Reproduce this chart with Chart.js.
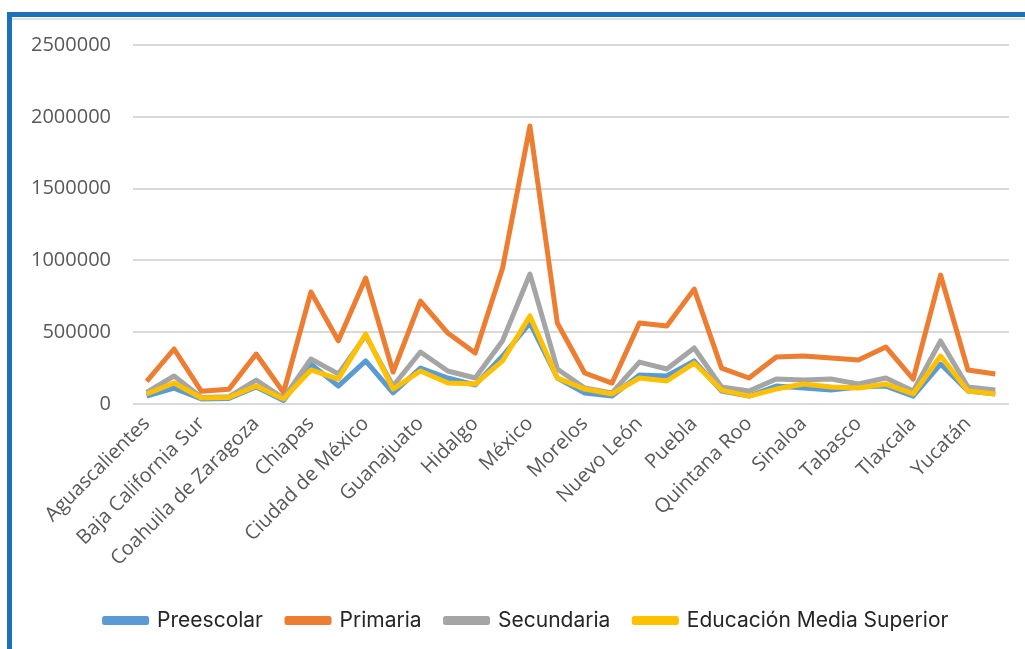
<!DOCTYPE html>
<html>
<head>
<meta charset="utf-8">
<script src="https://cdn.jsdelivr.net/npm/chart.js@4.4.0/dist/chart.umd.min.js"></script>
<style>
  html, body { margin: 0; padding: 0; background: #fff; }
  #wrap { position: relative; width: 1025px; height: 649px; overflow: hidden; }
  #frame { position: absolute; left: 7px; top: 12px; right: -10px; bottom: -10px;
           border-top: 5px solid #1b72bb; border-left: 5px solid #1b72bb; }
  #frame::after { content: ""; position: absolute; left: 0; right: 0; top: 1px; height: 2px; background: #dfe3e8; }
  canvas { position: absolute; left: 0; top: 0; }
</style>
</head>
<body>
<div id="wrap">
  <div id="frame"></div>
  <canvas id="c" width="1025" height="649"></canvas>
</div>
<script>
const states = ["Aguascalientes","Baja California","Baja California Sur","Campeche","Coahuila de Zaragoza","Colima","Chiapas","Chihuahua","Ciudad de México","Durango","Guanajuato","Guerrero","Hidalgo","Jalisco","México","Michoacán de Ocampo","Morelos","Nayarit","Nuevo León","Oaxaca","Puebla","Querétaro","Quintana Roo","San Luis Potosí","Sinaloa","Sonora","Tabasco","Tamaulipas","Tlaxcala","Veracruz de Ignacio de la Llave","Yucatán","Zacatecas"];

const preescolar = [55000,111000,35000,38000,118000,25000,278000,125000,300000,77000,250000,181000,132000,334000,564000,181000,77000,55000,202000,195000,300000,90000,55000,125000,111000,97000,118000,125000,55000,278000,90000,70000];
const primaria = [158000,383000,88000,102000,348000,80000,780000,440000,877000,223000,717000,494000,355000,945000,1936000,564000,216000,146000,564000,543000,800000,250000,181000,327000,334000,320000,306000,397000,174000,898000,237000,209000];
const secundaria = [80000,195000,45000,50000,167000,40000,313000,210000,476000,125000,362000,230000,181000,440000,905000,244000,111000,77000,292000,244000,390000,118000,90000,174000,167000,174000,139000,181000,90000,439000,118000,97000];
const mediaSuperior = [70000,146000,42000,45000,125000,35000,237000,174000,487000,104000,230000,146000,139000,300000,613000,181000,104000,70000,181000,160000,285000,97000,55000,104000,139000,118000,111000,139000,70000,334000,90000,70000];

const seriesNames = ["Preescolar","Primaria","Secundaria","Educación Media Superior"];
const yTicks = [0,500000,1000000,1500000,2000000,2500000];

const colors = ["#5b9bd5","#ed7d31","#a5a5a5","#ffc000"];
const values = [preescolar, primaria, secundaria, mediaSuperior];
const orders = [4,3,2,1];

const shiftLegend = {
  id: 'shiftLegend',
  afterLayout(chart) {
    const l = chart.legend;
    if (l) { l.left += 22; l.right += 22; }
  }
};

new Chart(document.getElementById('c'), {
  type: 'line',
  data: {
    labels: states,
    datasets: seriesNames.map((n,i) => ({
      label: n,
      data: values[i],
      borderColor: colors[i],
      backgroundColor: colors[i],
      borderWidth: 5,
      pointRadius: 0,
      tension: 0,
      fill: false,
      order: orders[i],
      borderJoinStyle: 'round'
    }))
  },
  plugins: [shiftLegend],
  options: {
    responsive: false,
    animation: false,
    layout: { padding: { left: 0, right: 16, top: 45, bottom: 8 } },
    plugins: {
      tooltip: { enabled: false },
      legend: {
        position: 'bottom',
        labels: {
          boxWidth: 42,
          boxHeight: 4,
          color: '#262626',
          font: { family: 'Inter', size: 21 },
          padding: 24,
          sort: (a, b) => a.datasetIndex - b.datasetIndex
        }
      }
    },
    scales: {
      x: {
        offset: true,
        grid: { display: false, drawTicks: false },
        border: { display: false },
        ticks: {
          autoSkip: false,
          minRotation: 45,
          maxRotation: 45,
          padding: 8,
          color: '#595959',
          font: { family: 'Open Sans', size: 20 },
          callback: function(v, i) { return i % 2 === 0 ? this.getLabelForValue(v) : ''; }
        },
        afterFit: s => { s.height = 182; }
      },
      y: {
        min: 0, max: 2500000,
        afterBuildTicks: s => { s.ticks = yTicks.map(v => ({ value: v })); },
        grid: { color: '#d9d9d9', lineWidth: 2, drawTicks: false },
        border: { display: false },
        ticks: {
          padding: 22,
          color: '#595959',
          font: { family: 'Open Sans', size: 20 },
          callback: v => String(v)
        },
        afterFit: s => { s.width = 133; }
      }
    }
  }
});
</script>
</body>
</html>
